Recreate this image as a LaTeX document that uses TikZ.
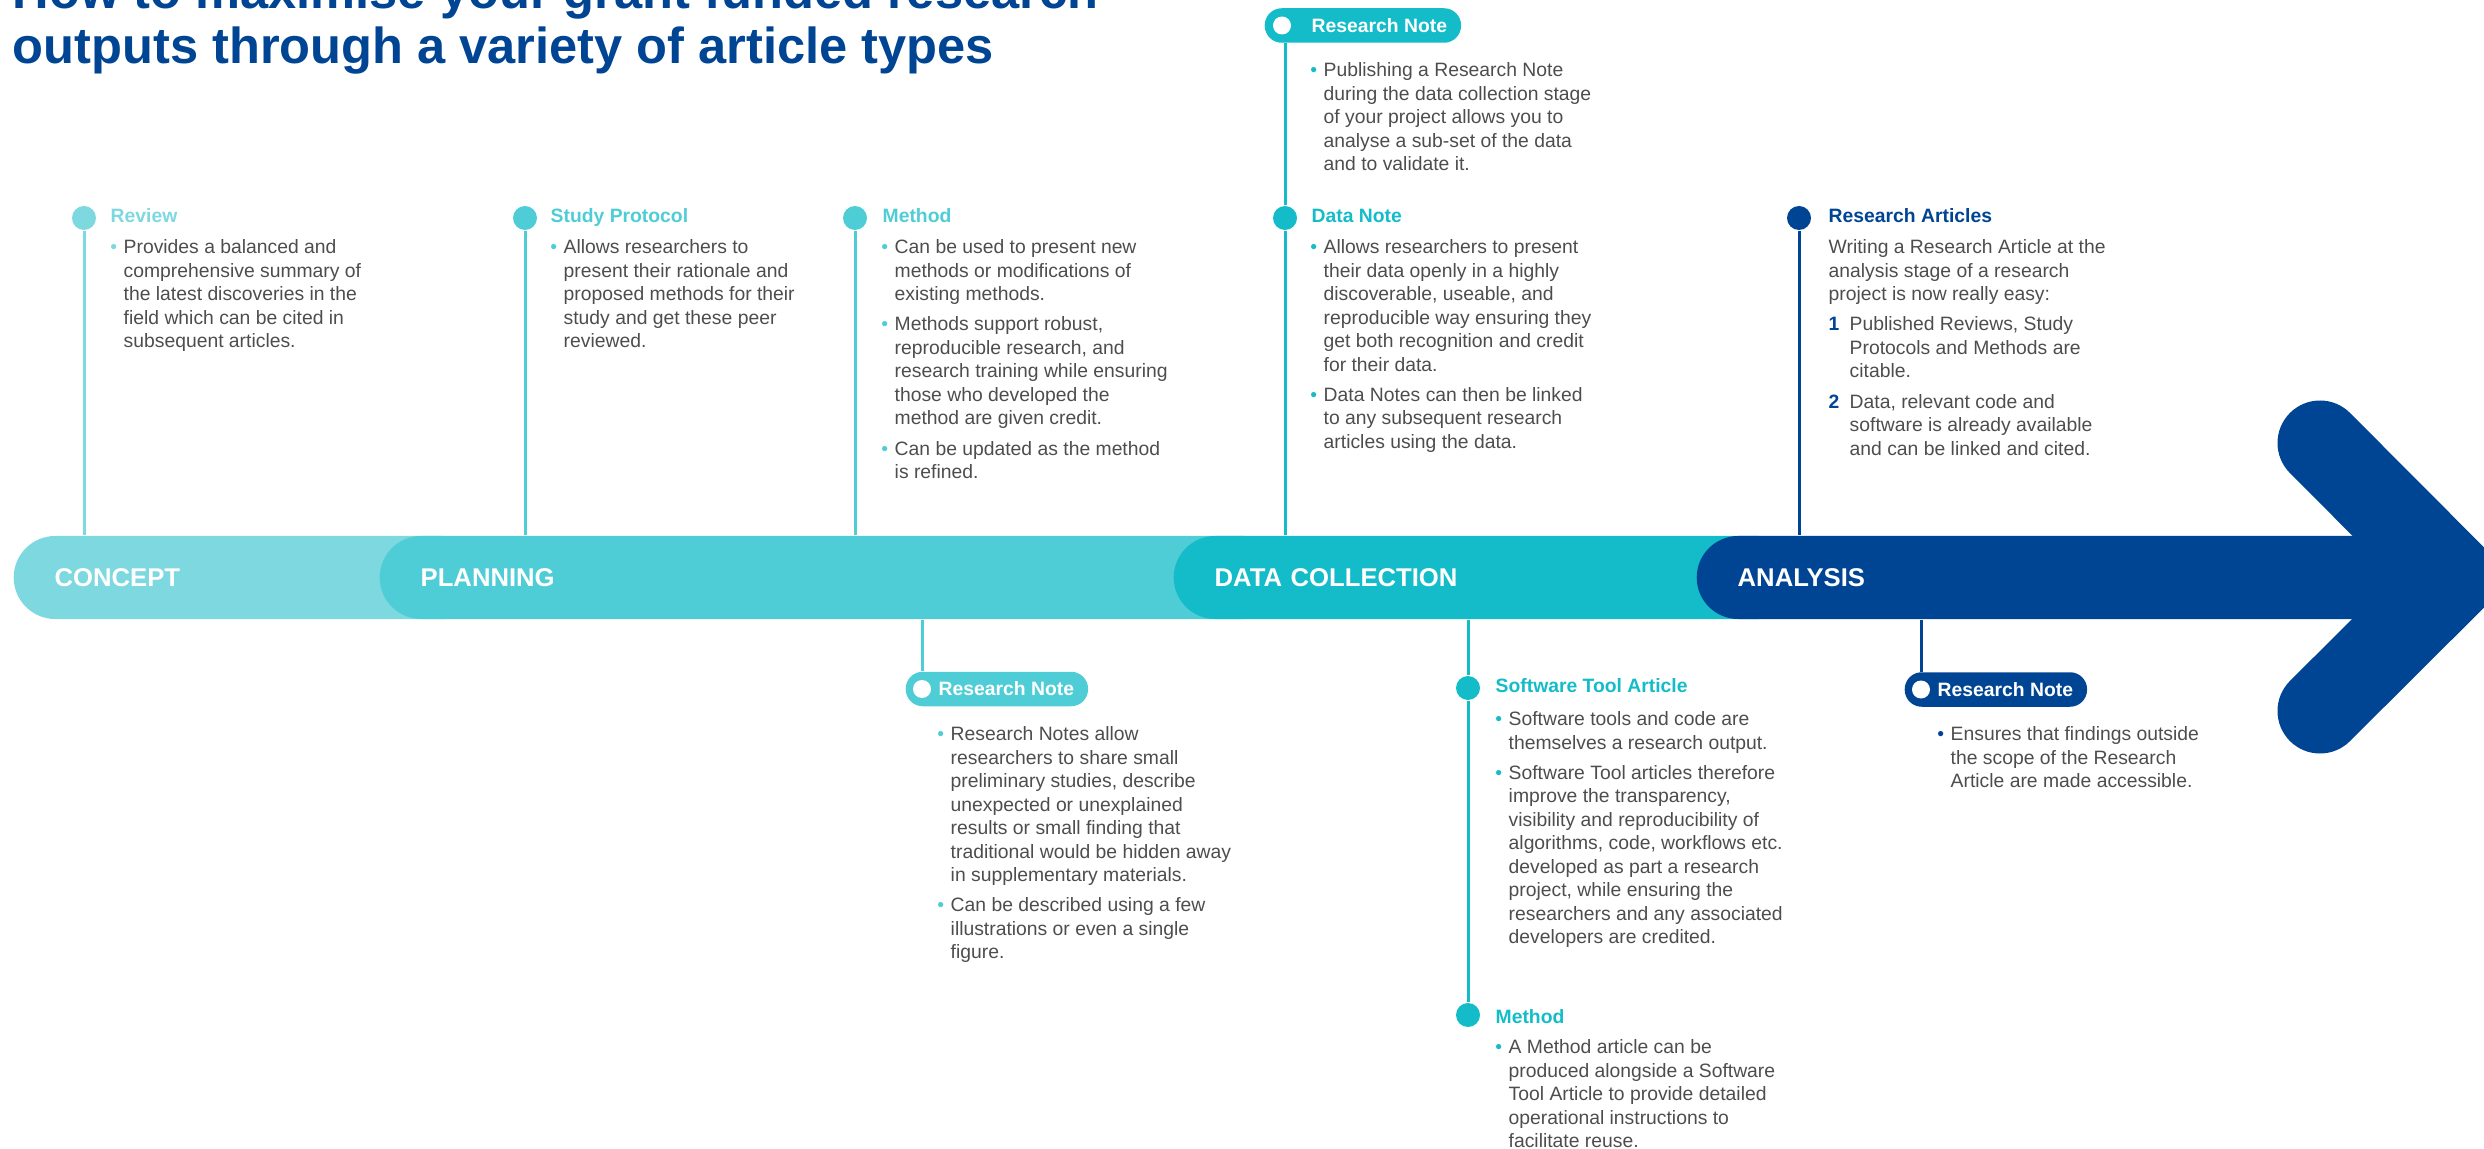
\documentclass[tikz,border=0pt]{standalone}
\usepackage{xcolor}
\usepackage{fontspec}
\setmainfont{Liberation Sans}

\definecolor{conceptc}{HTML}{7DD8DF}
\definecolor{planningc}{HTML}{4FCDD6}
\definecolor{datac}{HTML}{13BCC8}
\definecolor{analysisc}{HTML}{004494}
\definecolor{bodyc}{HTML}{4D4D4F}

\newcommand{\bul}[1]{\llap{\textcolor{#1}{\textbullet}\hspace{1.9pt}}}
\newcommand{\itemno}[1]{\makebox[0.21cm][l]{\textcolor{analysisc}{\bfseries #1}}}

\begin{document}
\begin{tikzpicture}[
    phase/.style={fill=#1, rounded corners=0.415cm, minimum height=0.83cm, inner xsep=0.41cm, inner ysep=0pt,
                  anchor=west, align=left, text=white, font=\bfseries\fontsize{7.3}{8}\selectfont},
    marker/.style={circle, fill=#1, inner sep=0pt, minimum size=0.24cm},
    holedot/.style={circle, fill=white, inner sep=0pt, minimum size=0.18cm},
    tag/.style={fill=#1, rounded corners=0.17cm, minimum height=0.345cm, inner xsep=0.14cm, inner ysep=0pt,
                anchor=west, text=white, font=\bfseries\fontsize{5.5}{6.7}\selectfont},
    heading/.style={text=#1, anchor=base west, inner sep=0pt, font=\bfseries\fontsize{5.5}{6.7}\selectfont},
    blurb/.style={text=bodyc, anchor=north west, inner sep=0pt, align=left, font=\fontsize{5.5}{6.69}\selectfont},
    stalk/.style={draw=#1, line width=0.03cm},
  ]
  \useasboundingbox (0,0) rectangle (24.84,-11.49);

  % title
  \node[anchor=north west, inner sep=0pt, align=left, text=analysisc, font=\bfseries\fontsize{14.4}{15.65}\selectfont]
    (title) at (0.12,0.305) {\strut How to maximise your grant funded research\\ outputs through a variety of article types};

  % the timeline bar
  \node[phase=conceptc,  text width=3.90cm] (concept)  at (0.13,-5.775)  {CONCEPT};
  \node[phase=planningc, text width=8.24cm] (planning) at (3.79,-5.775)  {PLANNING};
  \node[phase=datac,     text width=5.45cm] (datacoll) at (11.73,-5.775) {DATA COLLECTION};
  \node[phase=analysisc, text width=6.42cm] (analysis) at (16.96,-5.775) {ANALYSIS};
  \draw[analysisc, line width=0.85cm, line cap=round, line join=miter]
    (23.20,-4.43) -- (24.54,-5.775) -- (23.20,-7.11);

  % concept
  \node[marker=conceptc] (review_dot) at (0.84,-2.18) {};
  \node[heading=conceptc] (review_head) at (1.10,-2.23) {Review};
  \node[blurb] (review_text) at (1.23,-2.365)
    {\strut\bul{conceptc}Provides a balanced and\\ comprehensive summary of\\ the latest discoveries in the\\
     field which can be cited in\\ subsequent articles.};
  \draw[stalk=conceptc] (review_dot) -- (review_dot |- concept.north);

  % planning
  \node[marker=planningc] (protocol_dot) at (5.25,-2.18) {};
  \node[heading=planningc] (protocol_head) at (5.50,-2.23) {Study Protocol};
  \node[blurb] (protocol_text) at (5.63,-2.365)
    {\strut\bul{planningc}Allows researchers to\\ present their rationale and\\ proposed methods for their\\
     study and get these peer\\ reviewed.};
  \draw[stalk=planningc] (protocol_dot) -- (protocol_dot |- planning.north);

  \node[marker=planningc] (method_dot) at (8.55,-2.18) {};
  \node[heading=planningc] (method_head) at (8.82,-2.23) {Method};
  \node[blurb] (method_text) at (8.94,-2.365)
    {\strut\bul{planningc}Can be used to present new\\ methods or modifications of\\ existing methods.\\[1.9pt]
     \bul{planningc}Methods support robust,\\ reproducible research, and\\ research training while ensuring\\
     those who developed the\\ method are given credit.\\[1.9pt]
     \bul{planningc}Can be updated as the method\\ is refined.};
  \draw[stalk=planningc] (method_dot) -- (method_dot |- planning.north);

  \node[tag=planningc] (plan_note) at (9.05,-6.89) {\hspace{0.19cm}Research Note};
  \node[holedot] (plan_note_hole) at ([xshift=0.17cm]plan_note.west) {};
  \node[blurb] (plan_note_text) at (9.50,-7.235)
    {\strut\bul{planningc}Research Notes allow\\ researchers to share small\\ preliminary studies, describe\\
     unexpected or unexplained\\ results or small finding that\\ traditional would be hidden away\\
     in supplementary materials.\\[1.9pt]
     \bul{planningc}Can be described using a few\\ illustrations or even a single\\ figure.};
  \draw[stalk=planningc] (plan_note_hole |- planning.south) -- (plan_note_hole |- plan_note.north);

  % data collection
  \node[tag=datac] (data_note_top) at (12.64,-0.255) {\hspace{0.33cm}Research Note};
  \node[holedot] (data_note_hole) at ([xshift=0.18cm]data_note_top.west) {};
  \node[blurb] (data_note_top_text) at (13.23,-0.595)
    {\strut\bul{datac}Publishing a Research Note\\ during the data collection stage\\ of your project allows you to\\
     analyse a sub-set of the data\\ and to validate it.};

  \node[marker=datac] (data_dot) at (12.85,-2.18) {};
  \node[heading=datac] (data_head) at (13.11,-2.23) {Data Note};
  \node[blurb] (data_text) at (13.23,-2.365)
    {\strut\bul{datac}Allows researchers to present\\ their data openly in a highly\\ discoverable, useable, and\\
     reproducible way ensuring they\\ get both recognition and credit\\ for their data.\\[1.9pt]
     \bul{datac}Data Notes can then be linked\\ to any subsequent research\\ articles using the data.};
  \draw[stalk=datac] (data_dot |- data_note_top.south) -- (data_dot) -- (data_dot |- datacoll.north);

  \node[marker=datac] (tool_dot) at (14.68,-6.88) {};
  \node[heading=datac] (tool_head) at (14.95,-6.93) {Software Tool Article};
  \node[blurb] (tool_text) at (15.08,-7.085)
    {\strut\bul{datac}Software tools and code are\\ themselves a research output.\\[1.9pt]
     \bul{datac}Software Tool articles therefore\\ improve the transparency,\\ visibility and reproducibility of\\
     algorithms, code, workflows etc.\\ developed as part a research\\ project, while ensuring the\\
     researchers and any associated\\ developers are credited.};

  \node[marker=datac] (method2_dot) at (14.68,-10.15) {};
  \node[heading=datac] (method2_head) at (14.95,-10.23) {Method};
  \node[blurb] (method2_text) at (15.08,-10.365)
    {\strut\bul{datac}A Method article can be\\ produced alongside a Software\\ Tool Article to provide detailed\\
     operational instructions to\\ facilitate reuse.};
  \draw[stalk=datac] (tool_dot |- datacoll.south) -- (tool_dot) -- (method2_dot);

  % analysis
  \node[marker=analysisc] (article_dot) at (17.99,-2.18) {};
  \node[heading=analysisc] (article_head) at (18.28,-2.23) {Research Articles};
  \node[blurb] (article_text) at (18.28,-2.365)
    {\strut Writing a Research Article at the\\ analysis stage of a research\\ project is now really easy:\\[1.9pt]
     \itemno{1}Published Reviews, Study\\ \hspace*{0.21cm}Protocols and Methods are\\ \hspace*{0.21cm}citable.\\[1.9pt]
     \itemno{2}Data, relevant code and\\ \hspace*{0.21cm}software is already available\\ \hspace*{0.21cm}and can be linked and cited.};
  \draw[stalk=analysisc] (article_dot) -- (article_dot |- analysis.north);

  \node[tag=analysisc] (ana_note) at (19.04,-6.895) {\hspace{0.19cm}Research Note};
  \node[holedot] (ana_note_hole) at ([xshift=0.17cm]ana_note.west) {};
  \node[blurb] (ana_note_text) at (19.50,-7.235)
    {\strut\bul{analysisc}Ensures that findings outside\\ the scope of the Research\\ Article are made accessible.};
  \draw[stalk=analysisc] (ana_note_hole |- analysis.south) -- (ana_note_hole |- ana_note.north);
\end{tikzpicture}
\end{document}
